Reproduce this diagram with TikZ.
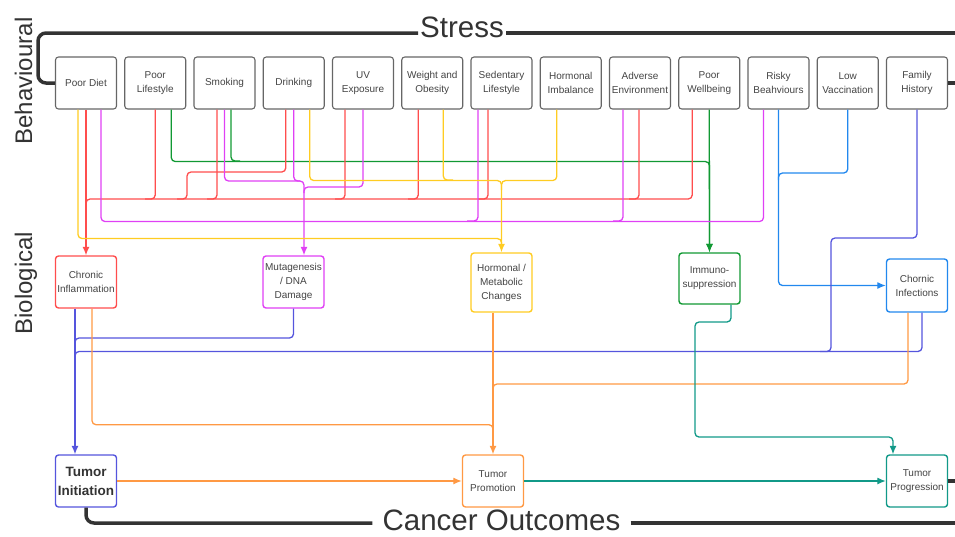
\documentclass[tikz,border=0pt]{standalone}
\usepackage{fontspec}
\setmainfont{Liberation Sans}
\usetikzlibrary{arrows.meta,calc}
\definecolor{cred}{HTML}{FF4D4D}
\definecolor{cmag}{HTML}{E040F5}
\definecolor{cyel}{HTML}{FFCC22}
\definecolor{cgrn}{HTML}{119933}
\definecolor{cblu}{HTML}{2288EE}
\definecolor{cpur}{HTML}{5555DD}
\definecolor{corg}{HTML}{FF9944}
\definecolor{cteal}{HTML}{119988}
\definecolor{cgray}{HTML}{666666}
\definecolor{cdark}{HTML}{333333}
\definecolor{ctext}{HTML}{444444}
\begin{document}
\begin{tikzpicture}[x=1pt,y=-1pt,
  topbox/.style={draw=cgray, fill=white, line width=1.1pt, rounded corners=3pt, minimum width=61pt, minimum height=52pt, inner sep=0pt, align=center, font=\fontsize{10}{14}\selectfont, text=ctext},
  biobox/.style={topbox, line width=1.4pt},
  conn/.style={line width=1.3pt, rounded corners=4pt},
  arr/.style={-{Latex[length=8.5pt,width=7pt]}},
  brk/.style={line width=3.5pt, draw=cdark, rounded corners=8pt},
  title/.style={font=\fontsize{29.5}{30}\selectfont, text=cdark, anchor=base, inner ysep=0pt},
  side/.style={font=\fontsize{24}{26}\selectfont, text=cdark, rotate=90, anchor=base},
]
\useasboundingbox (0,0) rectangle (955,536);

% titles
\node[title, inner xsep=2pt] (st) at (462,37) {Stress};
\node[title, inner xsep=10pt] (co) at (501.5,530.5) {Cancer Outcomes};
\node[side] (beh) at (32,81) {Behavioural};
\node[side] (bio) at (32,283) {Biological};

% behavioural boxes
\node[topbox] (pd) at (86,83) {Poor Diet};
\node[topbox] (pl) at (155.25,83) {Poor\\Lifestyle};
\node[topbox] (sm) at (224.5,83) {Smoking};
\node[topbox] (dr) at (293.75,83) {Drinking};
\node[topbox] (uv) at (363,83) {UV\\Exposure};
\node[topbox] (wo) at (432.25,83) {Weight and\\Obesity};
\node[topbox] (sl) at (501.5,83) {Sedentary\\Lifestyle};
\node[topbox] (hi) at (570.75,83) {Hormonal\\Imbalance};
\node[topbox] (ae) at (640,83) {Adverse\\Environment};
\node[topbox] (pw) at (709.25,83) {Poor\\Wellbeing};
\node[topbox] (rb) at (778.5,83) {Risky\\Beahviours};
\node[topbox] (lv) at (847.75,83) {Low\\Vaccination};
\node[topbox] (fh) at (917,83) {Family\\History};

% biological boxes
\node[biobox, draw=cred] (ci) at (86,282) {Chronic\\Inflammation};
\node[biobox, draw=cmag] (mu) at (293.5,282) {Mutagenesis\\/ DNA\\Damage};
\node[biobox, draw=cyel, minimum height=59pt] (hm) at (501.5,282.5) {Hormonal /\\Metabolic\\Changes};
\node[biobox, draw=cgrn, minimum height=51pt] (im) at (709.5,278.5) {Immuno-\\suppression};
\node[biobox, draw=cblu, minimum height=53pt] (cin) at (917,285.5) {Chornic\\Infections};

% outcome boxes
\node[biobox, draw=cpur, font=\bfseries\fontsize{13.5}{19}\selectfont, text=cdark] (ti) at (86,481) {Tumor\\Initiation};
\node[biobox, draw=corg] (tp) at (493,481) {Tumor\\Promotion};
\node[biobox, draw=cteal] (tg) at (917,481) {Tumor\\Progression};

% brackets
\draw[brk] (pd.west) -| (38,33) -- (st.west |- 0,33);
\draw[brk] (st.east |- 0,33) -- (956,33);
\draw[brk] (fh.east) -- (956,83);
\draw[brk] (ti.south) |- (co.west |- 0,523);
\draw[brk] (co.east |- 0,523) -- (956,523);
\draw[brk] (tg.east) -- (956,481);

% green -> immunosuppression
\draw[conn, cgrn, arr] ($(pl.south)+(16,0)$) -- ++(0,52) -| (im.north);
\draw[conn, cgrn] ($(sm.south)+(6.5,0)$) |- (240,161);
\draw[conn, cgrn, arr] (pw.south) -- (im.north);

% red -> chronic inflammation
\draw[conn, cred] ($(pw.south)+(-17,0)$) |- (86,199) -- (86,240);
\draw[conn, cred] (pl.south) |- (145,199);
\draw[conn, cred] ($(sm.south)+(-7.5,0)$) |- (207,199);
\draw[conn, cred] ($(dr.south)+(-8,0)$) |- (187,172) |- (177,199);
\draw[conn, cred] ($(uv.south)+(-18,0)$) |- (335,199);
\draw[conn, cred] ($(wo.south)+(-14,0)$) |- (408,199);
\draw[conn, cred] ($(sl.south)+(-13.5,0)$) |- (478,199);
\draw[conn, cred] ($(ae.south)+(-1,0)$) |- (629,199);
\draw[conn, cred, arr] (pd.south) -- (ci.north);

% magenta -> mutagenesis
\draw[conn, cmag] ($(pd.south)+(15,0)$) -- ++(0,112) -| ($(rb.south)+(-15,0)$);
\draw[conn, cmag] ($(sl.south)+(-23.5,0)$) |- (467,221);
\draw[conn, cmag] ($(ae.south)+(-17,0)$) |- (613,221);
\draw[conn, cmag] (dr.south) |- (300,181);
\draw[conn, cmag] (uv.south) |- (304,187) -- (304,193);
\draw[conn, cmag, arr] (sm.south) |- (304,181) -- ($(mu.north)+(10.5,0)$);

% yellow -> hormonal / metabolic
\draw[conn, cyel] ($(pd.south)+(-8,0)$) -- ++(0,129) -| (501.5,245);
\draw[conn, cyel] ($(wo.south)+(11,0)$) |- (453,180);
\draw[conn, cyel] ($(hi.south)+(-14,0)$) -- ++(0,71) -| (501.5,190);
\draw[conn, cyel, arr] ($(dr.south)+(16,0)$) -- ++(0,71) -| (hm.north);

% blue -> chornic infections
\draw[conn, cblu] (lv.south) |- (778.5,173) -- (778.5,180);
\draw[conn, cblu, arr] (rb.south) |- (cin.west);

% purple -> tumor initiation
\draw[conn, cpur] (fh.south) |- (831,238) |- (820,351.5);
\draw[conn, cpur] ($(cin.south)+(5,0)$) |- (75,351.5) -- (75,358);
\draw[conn, cpur] (mu.south) |- (75,338) -- (75,345);
\draw[conn, cpur, arr] ($(ci.south)+(-11,0)$) -- ($(ti.north)+(-11,0)$);

% orange -> tumor promotion
\draw[conn, corg] ($(cin.south)+(-9,0)$) |- (493,384) -- (493,390);
\draw[conn, corg] ($(ci.south)+(6,0)$) -- ++(0,116) -| (493,435);
\draw[conn, corg, arr] ($(hm.south)+(-8.5,0)$) -- (tp.north);
\draw[line width=1.3pt, corg, arr] (ti.east) -- (tp.west);

% teal -> tumor progression
\draw[conn, cteal, arr] ($(im.south)+(21.5,0)$) |- (695,322) |- (893,437) -- ($(tg.north)+(-24,0)$);
\draw[line width=1.3pt, cteal, arr] (tp.east) -- (tg.west);
\end{tikzpicture}
\end{document}
